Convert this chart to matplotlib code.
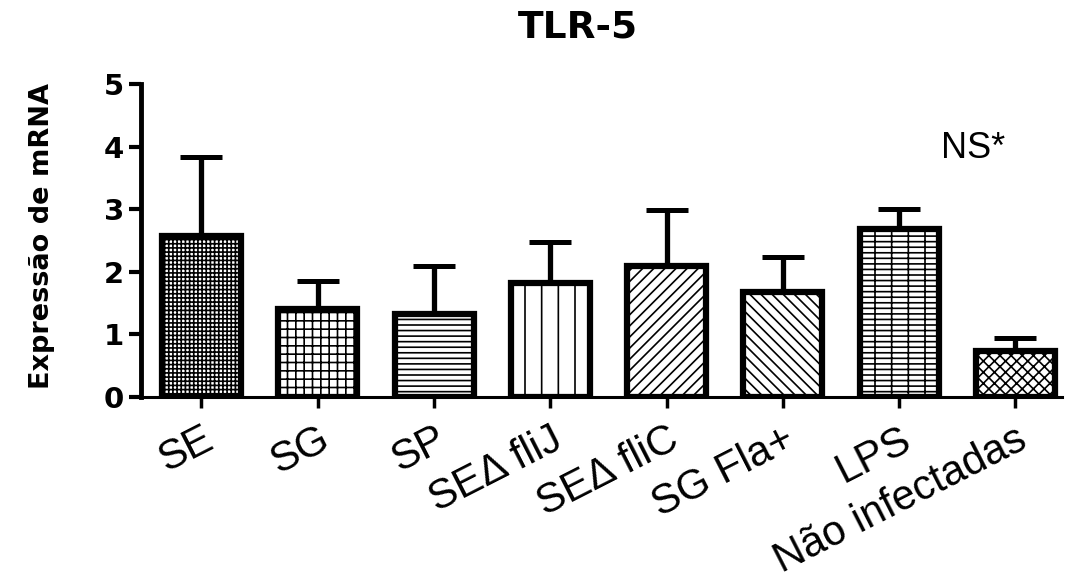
import matplotlib
matplotlib.use("Agg")
import matplotlib.pyplot as plt
import matplotlib.transforms as mtransforms
import numpy as np

categories = ["SE", "SG", "SP", "SEΔ fliJ", "SEΔ fliC", "SG Fla+", "LPS", "Não infectadas"]
means = [2.57, 1.40, 1.33, 1.82, 2.09, 1.68, 2.69, 0.73]
upper = [3.84, 1.86, 2.10, 2.48, 2.99, 2.23, 3.01, 0.95]
yticks = [0, 1, 2, 3, 4, 5]
hatches = ["++++", "++", "---", "|", "///", "\\\\\\", "|---", "xxx"]

plt.rcParams["hatch.linewidth"] = 1.2

fig = plt.figure(figsize=(10.68, 5.83), dpi=100)
ax = fig.add_axes([141/1068, 1-397/583, (1062-141)/1068, (397-84)/583])

x = np.arange(len(categories))
err = np.array(upper) - np.array(means)
ax.errorbar(x, means, yerr=[np.zeros(len(x)), err], fmt="none", ecolor="black",
            elinewidth=3.8, capsize=15, capthick=3.6, zorder=1)
bars = ax.bar(x, means, width=0.68, color="white", edgecolor="black",
              linewidth=4.5, zorder=2)
for b, h in zip(bars, hatches):
    b.set_hatch(h)

ax.set_xlim(-0.52, 7.40)
ax.set_ylim(0, 5)
ax.set_yticks(yticks)
ax.set_yticklabels([str(v) for v in yticks], fontsize=21, fontweight="bold",
                   family="DejaVu Sans")
ax.set_xticks(x)
ax.set_xticklabels(categories, rotation=27, ha="right", rotation_mode="anchor",
                   fontsize=30, family=["Liberation Sans", "DejaVu Sans"])
offset = mtransforms.ScaledTranslation(12/100, 0, fig.dpi_scale_trans)
for lab in ax.get_xticklabels():
    lab.set_transform(lab.get_transform() + offset)

for s in ["top", "right"]:
    ax.spines[s].set_visible(False)
ax.spines["left"].set_linewidth(3.5)
ax.spines["bottom"].set_linewidth(2.2)
ax.tick_params(axis="y", length=9, width=3, pad=3)
ax.tick_params(axis="x", length=8, width=2.5, pad=8)

ax.text(6.36, 3.82, "NS*", fontsize=26, ha="left", va="baseline",
        family="Liberation Sans")

fig.text(578/1068, 1-28/583, "TLR-5", fontsize=27, fontweight="bold",
         ha="center", va="center", family="DejaVu Sans")
fig.text(42/1068, 1-236/583, "Expressão de mRNA", fontsize=19.5, rotation=90,
         fontweight="bold", ha="center", va="center", family="DejaVu Sans")

fig.savefig("out.png", dpi=100)
